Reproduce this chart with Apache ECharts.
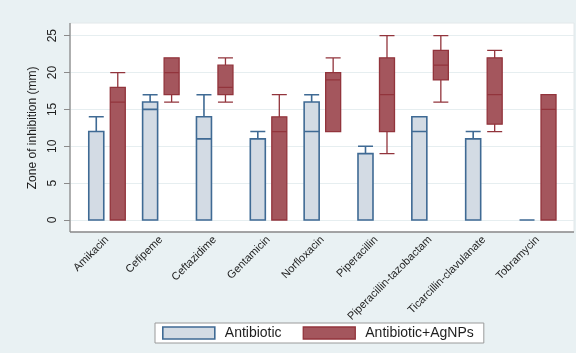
<!DOCTYPE html>
<html>
<head>
<meta charset="utf-8">
<script src="https://cdn.jsdelivr.net/npm/echarts@6/dist/echarts.min.js"></script>
<style>
  html, body { margin: 0; padding: 0; background: #e9f1f3; }
  #chart { width: 576px; height: 353px; }
</style>
</head>
<body>
<div id="chart"></div>
<script>
// Antibiotics tested
const categories = [
  'Amikacin', 'Cefipeme', 'Ceftazidime', 'Gentamicin', 'Norfloxacin',
  'Piperacillin', 'Piperacillin-tazobactam', 'Ticarcillin-clavulanate', 'Tobramycin'
];

// Zone of inhibition (mm) as [min, Q1, median, Q3, max]
const antibiotic = [
  [0, 0, 0, 12, 14],
  [0, 0, 15, 16, 17],
  [0, 0, 11, 14, 17],
  [0, 0, 0, 11, 12],
  [0, 0, 12, 16, 17],
  [0, 0, 0, 9, 10],
  [0, 0, 12, 14, 14],
  [0, 0, 0, 11, 12],
  [0, 0, 0, 0, 0]
];

const antibioticAgNPs = [
  [0, 0, 16, 18, 20],
  [16, 17, 20, 22, 22],
  [16, 17, 18, 21, 22],
  [0, 0, 12, 14, 17],
  [12, 12, 19, 20, 22],
  [9, 12, 17, 22, 25],
  [16, 19, 21, 23, 25],
  [12, 13, 17, 22, 23],
  [0, 0, 15, 17, 17]
];

const yTicks = [0, 5, 10, 15, 20, 25];

const FONT = 'Arial, "Liberation Sans", Helvetica, sans-serif';
const TOP = 35.7, HEIGHT = 184.3;
const CAT_LEFT = 80.1, CAT_RIGHT = 11.3;  // category band layout
const SHIFT = 10.75;                        // half distance between paired boxes

const STYLE_A = { color: '#d3dbe4', borderColor: '#3f6a94', borderWidth: 1.6 };
const STYLE_B = { color: '#a4565d', borderColor: '#92343c', borderWidth: 1.3 };

const chart = echarts.init(document.getElementById('chart'), null, { renderer: 'canvas' });

const yBase = {
  type: 'value', min: yTicks[0], max: yTicks[yTicks.length - 1], interval: 5
};
const hiddenY = (gi) => Object.assign({}, yBase, {
  gridIndex: gi, show: false, splitLine: { show: false }
});
const catAxis = (gi, showLabels) => ({
  type: 'category', gridIndex: gi, data: categories,
  axisLine: { show: false }, axisTick: { show: false }, splitLine: { show: false },
  axisLabel: showLabels ? {
    show: true, rotate: 45, interval: 0, margin: 18,
    fontSize: 11, color: '#1e1e1e', fontFamily: FONT
  } : { show: false }
});

chart.setOption({
  animation: false,
  backgroundColor: '#e9f1f3',
  textStyle: { fontFamily: FONT },
  graphic: [
    { type: 'rect', z: -100, shape: { x: 70, y: 23, width: 504, height: 209 },
      style: { fill: '#ffffff', stroke: '#e2e8ea', lineWidth: 1 } },
    { type: 'line', z: 100, shape: { x1: 70, y1: 23, x2: 70, y2: 232 },
      style: { stroke: '#8a8a8a', lineWidth: 1.3 } },
    { type: 'line', z: 100, shape: { x1: 70, y1: 232, x2: 574, y2: 232 },
      style: { stroke: '#8a8a8a', lineWidth: 1.3 } }
  ],
  grid: [
    { left: 70, right: 2, top: TOP, height: HEIGHT },
    { left: CAT_LEFT, right: CAT_RIGHT, top: TOP, height: HEIGHT },
    { left: CAT_LEFT - SHIFT, right: CAT_RIGHT + SHIFT, top: TOP, height: HEIGHT },
    { left: CAT_LEFT + SHIFT, right: CAT_RIGHT - SHIFT, top: TOP, height: HEIGHT }
  ],
  xAxis: [
    { type: 'value', gridIndex: 0, min: 0, max: 1, show: false },
    catAxis(1, true),
    catAxis(2, false),
    catAxis(3, false)
  ],
  yAxis: [
    Object.assign({}, yBase, {
      gridIndex: 0,
      name: 'Zone of inhibition (mm)',
      nameLocation: 'middle',
      nameGap: 22,
      nameTextStyle: { fontSize: 12, color: '#1e1e1e', fontFamily: FONT },
      axisLine: { show: false },
      axisTick: { show: true, length: 6, lineStyle: { color: '#8a8a8a', width: 1 } },
      axisLabel: {
        rotate: 90, margin: 11, fontSize: 12, color: '#1e1e1e', fontFamily: FONT,
        formatter: (v) => (yTicks.indexOf(v) >= 0 ? String(v) : '')
      },
      splitLine: { show: true, lineStyle: { color: '#e6eef0', width: 1 } }
    }),
    hiddenY(1),
    hiddenY(2),
    hiddenY(3)
  ],
  legend: {
    left: 155, top: 323,
    data: [
      { name: 'Antibiotic', itemStyle: STYLE_A },
      { name: 'Antibiotic+AgNPs', itemStyle: STYLE_B }
    ],
    icon: 'rect',
    itemWidth: 52, itemHeight: 12, itemGap: 21,
    padding: [3, 10, 3, 7],
    backgroundColor: '#ffffff',
    borderColor: '#9a9a9a', borderWidth: 1, borderRadius: 0,
    textStyle: { fontSize: 14, color: '#1e1e1e', fontFamily: FONT, padding: [0, 0, 0, 5] }
  },
  series: [
    {
      name: 'Antibiotic', type: 'boxplot',
      xAxisIndex: 2, yAxisIndex: 2,
      boxWidth: [15, 15],
      itemStyle: STYLE_A,
      emphasis: { disabled: true },
      data: antibiotic
    },
    {
      name: 'Antibiotic+AgNPs', type: 'boxplot',
      xAxisIndex: 3, yAxisIndex: 3,
      boxWidth: [15, 15],
      itemStyle: STYLE_B,
      emphasis: { disabled: true },
      data: antibioticAgNPs
    }
  ]
});
</script>
</body>
</html>
